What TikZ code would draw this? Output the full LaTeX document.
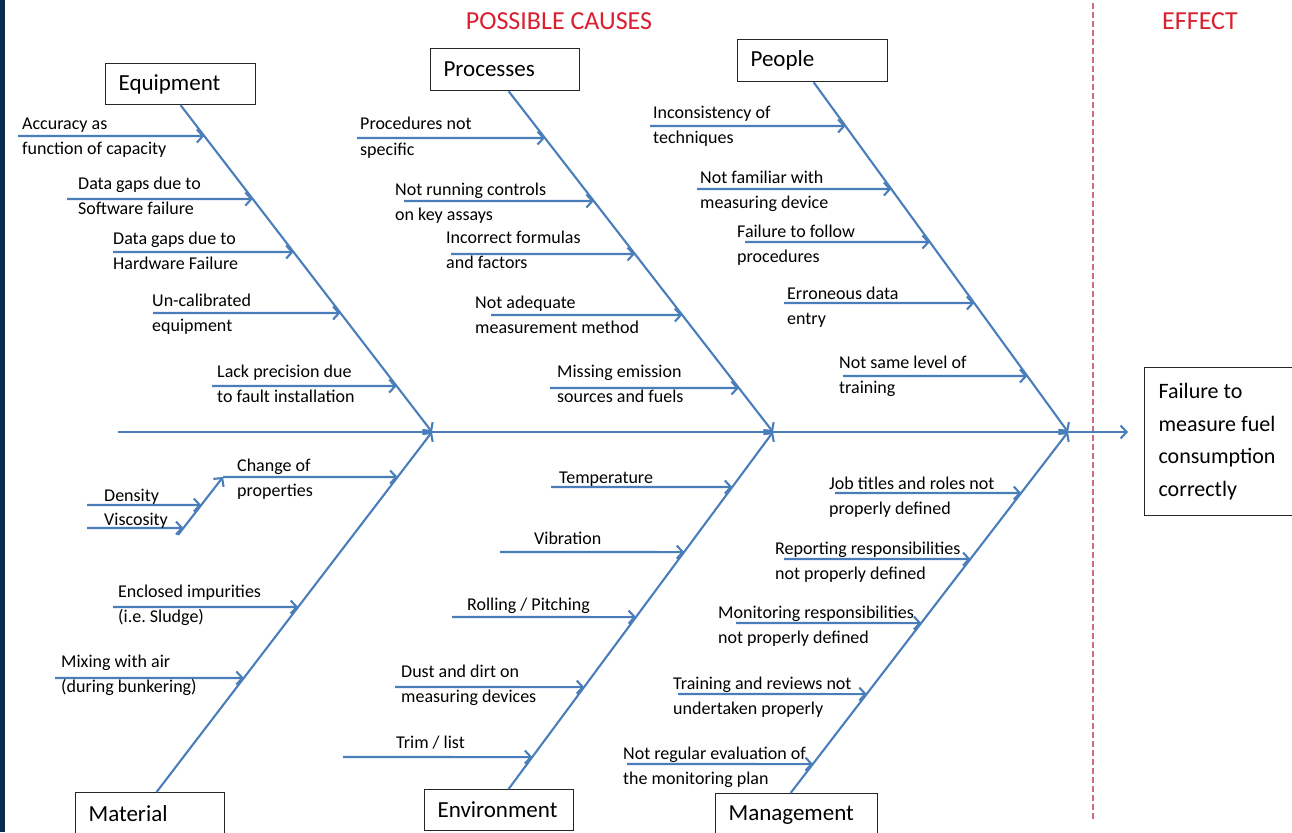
\documentclass[tikz,border=0pt]{standalone}
\usepackage{fontspec}
\setmainfont{Carlito}
\usetikzlibrary{arrows.meta,calc}
\definecolor{boneblue}{RGB}{74,126,187}
\definecolor{headred}{RGB}{218,32,48}
\definecolor{dashred}{RGB}{205,110,122}
\definecolor{navystrip}{RGB}{8,44,80}
\frenchspacing
\tikzset{
  bone/.style={draw=boneblue, line width=2.1pt, -{Straight Barb[length=6pt,width=13pt]}},
  causearrow/.style={bone},
  lbl/.style={font=\fontsize{18}{25.5}\selectfont\frenchspacing, align=left, inner sep=0pt, anchor=base west},
  twoline/.style={lbl, yshift=-25.5pt},
  catbox/.style={draw=black!85, line width=1.2pt, fill=white, anchor=north west,
    inner xsep=13pt, inner ysep=0pt, align=left, font=\fontsize{23}{28}\selectfont},
  effbox/.style={draw=black!85, line width=1.2pt, fill=white, anchor=north west,
    inner xsep=14pt, inner ysep=0pt, align=left, font=\fontsize{22}{32.5}\selectfont},
  redhead/.style={text=headred, font=\fontsize{26}{30}\selectfont, anchor=base, inner sep=0pt},
  divider/.style={draw=dashred, line width=1.2pt, dash pattern=on 6pt off 3pt}
}
\newcommand\causeline[5]{%
  \coordinate (#1s) at (#4,#5);
  \coordinate (#1h) at (1400,#5);
  \draw[causearrow] (#1s) -- (intersection of #2--#3 and #1s--#1h);
}
\begin{document}
\begin{tikzpicture}[x=1pt,y=-1pt]
\useasboundingbox (0,0) rectangle (1292,832);
\clip (0,0) rectangle (1292,832);
\fill[white] (0,0) rectangle (1292,832);
\fill[navystrip] (0,0) rectangle (5,832);

% headers
\node[redhead] (causeshd) at (559,30) {POSSIBLE CAUSES};
\node[redhead] (effecthd) at (1200,30) {EFFECT};
\coordinate (dT) at (1093,3);
\coordinate (dB) at (1093,820);
\draw[divider] (dT) -- (dB);

% category boxes
\node[catbox, minimum width=150pt, minimum height=41pt, text width=124pt] (equip) at (105,63) {Equipment};
\node[catbox, minimum width=149pt, minimum height=42pt, text width=123pt] (proc) at (430,48) {Processes};
\node[catbox, minimum width=150pt, minimum height=42pt, text width=124pt] (people) at (737,39) {People};
\node[catbox, minimum width=149pt, minimum height=42pt, text width=123pt] (mat) at (75,792) {Material};
\node[catbox, minimum width=149pt, minimum height=41pt, text width=123pt] (env) at (424,789) {Environment};
\node[catbox, minimum width=162pt, minimum height=42pt, text width=136pt] (mgmt) at (715,793) {Management};
\node[effbox, minimum width=156pt, minimum height=148pt, text width=128pt] (effect) at (1144,367) {\spaceskip=0pt\relax Failure to\\measure fuel\\consumption\\correctly};

% spine
\coordinate (spS) at (118,432);
\coordinate (J1) at (432,432);
\coordinate (J2) at (773,432);
\coordinate (J3) at (1068,432);
\coordinate (spE) at (1128,432);
\draw[bone] (spS) -- (spE);

% bones
\coordinate (EqA) at (equip.south);
\coordinate (PrA) at ([xshift=3.5pt]proc.south);
\coordinate (PeA) at ([xshift=1pt]people.south);
\coordinate (MaA) at ([xshift=6.5pt]mat.north);
\coordinate (EnA) at ([xshift=9.5pt]env.north);
\coordinate (MgA) at ([xshift=-6pt]mgmt.north);
\draw[bone] (EqA) -- (J1);
\draw[bone] (MaA) -- (J1);
\draw[bone] (PrA) -- (J2);
\draw[bone] (EnA) -- (J2);
\draw[bone] (PeA) -- (J3);
\draw[bone] (MgA) -- (J3);

% Equipment causes
\causeline{e1}{EqA}{J1}{18}{136}
\causeline{e2}{EqA}{J1}{67}{199}
\causeline{e3}{EqA}{J1}{113}{252}
\causeline{e4}{EqA}{J1}{153}{313}
\causeline{e5}{EqA}{J1}{212}{386}
\node[twoline] (e1t) at (22,129) {Accuracy as\\function of capacity};
\node[twoline] (e2t) at (78,189) {Data gaps due to\\Software failure};
\node[twoline] (e3t) at (113,244) {Data gaps due to\\Hardware Failure};
\node[twoline] (e4t) at (152,306) {Un-calibrated\\equipment};
\node[twoline] (e5t) at (217,377) {Lack precision due\\to fault installation};

% Material causes
\coordinate (SdA) at (178,535);
\coordinate (SdB) at (223,477);
\draw[causearrow] (SdA) -- (SdB);
\coordinate (m1h) at (1400,477);
\draw[causearrow] (SdB) -- (intersection of MaA--J1 and SdB--m1h);
\causeline{den}{SdA}{SdB}{87}{505}
\causeline{vis}{SdA}{SdB}{87}{528}
\causeline{m2}{MaA}{J1}{113}{607}
\causeline{m3}{MaA}{J1}{55}{678}
\node[twoline] (m1t) at (237,471) {Change of\\properties};
\node[lbl] (dent) at (104,501) {Density};
\node[lbl] (vist) at (104,525) {Viscosity};
\node[twoline] (m2t) at (118,597) {Enclosed impurities\\(i.e. Sludge)};
\node[twoline] (m3t) at (61,667) {Mixing with air\\(during bunkering)};

% Processes causes
\causeline{p1}{PrA}{J2}{357}{138}
\causeline{p2}{PrA}{J2}{404}{201}
\causeline{p3}{PrA}{J2}{451}{254}
\causeline{p4}{PrA}{J2}{491}{315}
\causeline{p5}{PrA}{J2}{550}{388}
\node[twoline] (p1t) at (360,130) {Procedures not\\specific};
\node[twoline] (p2t) at (395,195) {Not running controls\\on key assays};
\node[twoline] (p3t) at (446,243) {Incorrect formulas\\and factors};
\node[twoline] (p4t) at (475,308) {Not adequate\\measurement method};
\node[twoline] (p5t) at (557,377) {Missing emission\\sources and fuels};

% Environment causes
\causeline{n1}{EnA}{J2}{551}{487}
\causeline{n2}{EnA}{J2}{500}{552}
\causeline{n3}{EnA}{J2}{452}{617}
\causeline{n4}{EnA}{J2}{395}{687}
\causeline{n5}{EnA}{J2}{343}{757}
\node[lbl] (n1t) at (559,483) {Temperature};
\node[lbl] (n2t) at (534,544) {Vibration};
\node[lbl] (n3t) at (467,610) {Rolling / Pitching};
\node[twoline] (n4t) at (401,677) {Dust and dirt on\\measuring devices};
\node[lbl] (n5t) at (396,748) {Trim / list};

% People causes
\causeline{q1}{PeA}{J3}{650}{126}
\causeline{q2}{PeA}{J3}{697}{189}
\causeline{q3}{PeA}{J3}{745}{242}
\causeline{q4}{PeA}{J3}{784}{303}
\causeline{q5}{PeA}{J3}{843}{376}
\node[twoline] (q1t) at (653,118) {Inconsistency of\\techniques};
\node[twoline] (q2t) at (700,183) {Not familiar with\\measuring device};
\node[twoline] (q3t) at (737,237) {Failure to follow\\procedures};
\node[twoline] (q4t) at (787,299) {Erroneous data\\entry};
\node[twoline] (q5t) at (839,368) {Not same level of\\training};

% Management causes
\causeline{g1}{MgA}{J3}{835}{493}
\causeline{g2}{MgA}{J3}{784}{559}
\causeline{g3}{MgA}{J3}{736}{623}
\causeline{g4}{MgA}{J3}{678}{694}
\causeline{g5}{MgA}{J3}{627}{764}
\node[twoline] (g1t) at (829,489) {Job titles and roles not\\properly defined};
\node[twoline] (g2t) at (775,554) {Reporting responsibilities\\not properly defined};
\node[twoline] (g3t) at (718,618) {Monitoring responsibilities\\not properly defined};
\node[twoline] (g4t) at (673,689) {Training and reviews not\\undertaken properly};
\node[twoline] (g5t) at (623,759) {Not regular evaluation of\\the monitoring plan};
\end{tikzpicture}
\end{document}
